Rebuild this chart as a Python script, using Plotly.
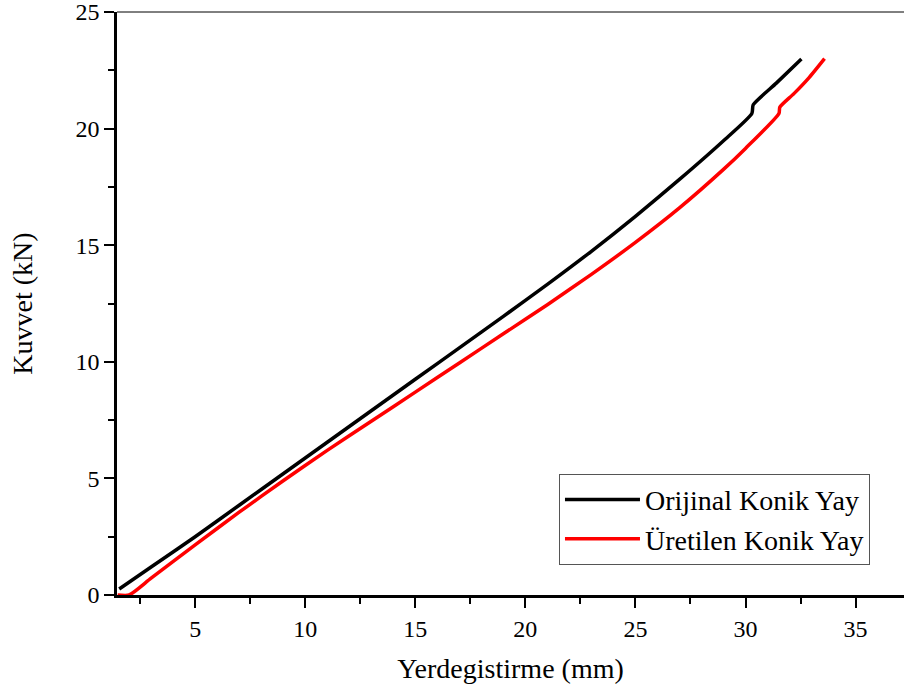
import plotly.graph_objects as go

# Orijinal Konik Yay (black)
orig_x = [1.55, 3, 5, 7, 9, 11, 13, 15, 17, 19, 21, 23, 25, 27, 29, 30.29, 30.35, 31.4, 32.54]
orig_y = [0.26, 1.2, 2.5, 3.85, 5.2, 6.55, 7.9, 9.25, 10.6, 11.95, 13.32, 14.74, 16.24, 17.82, 19.48, 20.65, 21.02, 21.95, 22.98]

# Üretilen Konik Yay (red)
uret_x = [1.48, 2.0, 3, 5, 7, 9, 11, 13, 15, 17, 19, 21, 23, 25, 27, 29, 30, 31.52, 31.56, 32.2, 32.9, 33.59]
uret_y = [0.0, 0.0, 0.72, 2.15, 3.55, 4.9, 6.2, 7.45, 8.7, 9.95, 11.2, 12.45, 13.75, 15.12, 16.6, 18.25, 19.15, 20.65, 20.92, 21.5, 22.2, 23.0]

x_ticks = [5, 10, 15, 20, 25, 30, 35]
y_ticks = [0, 5, 10, 15, 20, 25]

FONT = "Liberation Serif"

fig = go.Figure()
fig.add_trace(go.Scatter(x=orig_x, y=orig_y, mode="lines", name="Orijinal Konik Yay",
                         line=dict(color="black", width=3.5, shape="spline", smoothing=0.6)))
fig.add_trace(go.Scatter(x=uret_x, y=uret_y, mode="lines", name="Üretilen Konik Yay",
                         line=dict(color="#ff0000", width=3.5, shape="spline", smoothing=0.6)))

fig.update_layout(
    width=904, height=690,
    margin=dict(l=117, r=0, t=12, b=95),
    plot_bgcolor="white", paper_bgcolor="white",
    font=dict(family=FONT, size=24, color="black"),
    showlegend=True,
    legend=dict(x=0.5616, y=0.052, xanchor="left", yanchor="bottom",
                bgcolor="white", bordercolor="#555555", borderwidth=1,
                font=dict(family=FONT, size=28), itemwidth=75,
                tracegroupgap=0),
    xaxis=dict(range=[1.45, 37.2], tickvals=x_ticks, showgrid=False, zeroline=False,
               showline=True, linecolor="black", linewidth=2.5,
               ticks="outside", ticklen=10, tickwidth=2, tickcolor="black",
               minor=dict(dtick=2.5, tick0=0, ticks="outside", ticklen=6, tickwidth=2, tickcolor="black"),
               title=dict(text="Yerdegistirme (mm)", font=dict(family=FONT, size=28), standoff=18),
               tickfont=dict(family=FONT, size=24), ticklabeloverflow="allow"),
    yaxis=dict(range=[0, 25], tickvals=y_ticks, showgrid=False, zeroline=False,
               showline=True, linecolor="black", linewidth=2.5,
               ticks="outside", ticklen=10, tickwidth=2, tickcolor="black",
               minor=dict(dtick=2.5, tick0=0, ticks="outside", ticklen=6, tickwidth=2, tickcolor="black"),
               title=dict(text="Kuvvet (kN)", font=dict(family=FONT, size=28), standoff=35),
               tickfont=dict(family=FONT, size=24), ticklabeloverflow="allow"),
    shapes=[dict(type="line", xref="paper", yref="paper", x0=0, x1=1, y0=1, y1=1,
                 line=dict(color="black", width=1))],
)

fig.write_html("out.html")
